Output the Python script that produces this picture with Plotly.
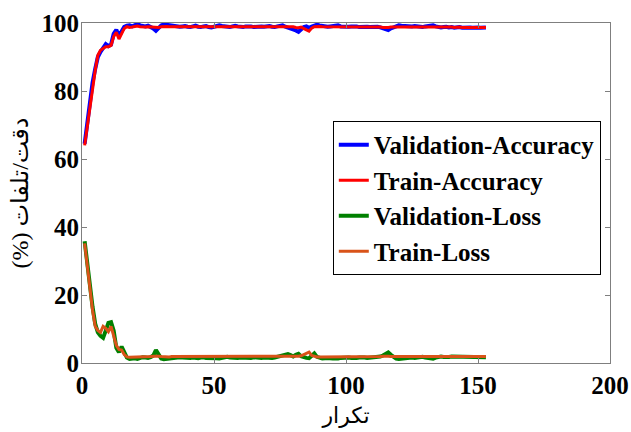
import plotly.graph_objects as go

epochs = list(range(1, 154))

val_acc = [
    64.5, 70.5, 77.0, 82.5, 86.5, 90.0, 91.5, 92.8, 93.8, 93.2,
    93.6, 96.8, 98.0, 96.2, 97.8, 98.9, 99.2, 99.3, 99.0, 99.5,
    99.7, 99.3, 99.1, 99.0, 99.2, 98.9, 98.4, 97.7, 98.6, 99.3,
    99.6, 99.5, 99.3, 99.2, 99.0, 99.1, 98.9, 99.0, 99.1, 98.9,
    98.8, 99.0, 99.2, 98.9, 98.8, 99.0, 99.1, 98.8, 98.7, 98.9,
    99.0, 99.3, 99.1, 98.9, 98.7, 98.8, 99.0, 99.2, 99.0, 98.9,
    98.8, 99.0, 99.1, 99.0, 98.8, 98.9, 99.1, 99.0, 98.9, 99.0,
    99.1, 98.9, 98.8, 99.0, 99.1, 99.3, 98.9, 98.7, 98.5, 98.3,
    97.8, 97.4, 98.2, 98.8, 99.0, 98.6, 98.9, 99.3, 99.5, 99.3,
    99.1, 99.0, 98.9, 99.0, 99.2, 99.4, 99.3, 99.0, 98.9, 98.8,
    98.9, 99.0, 99.1, 99.0, 98.8, 98.9, 99.0, 98.9, 98.8, 98.9,
    99.0, 98.9, 98.7, 98.4, 98.0, 97.9, 98.4, 98.8, 99.1, 99.3,
    99.2, 99.1, 99.0, 98.9, 99.0, 99.1, 99.0, 98.9, 98.8, 99.0,
    99.1, 99.4, 99.3, 99.0, 98.8, 98.7, 98.8, 98.9, 98.7, 98.8,
    98.6, 98.7, 98.8, 98.6, 98.7, 98.8, 98.7, 98.6, 98.8, 98.7,
    98.6, 98.7, 98.7,
]

train_acc = [
    64.0, 69.5, 76.0, 81.5, 86.0, 90.5, 92.0, 92.5, 93.0, 93.0,
    93.4, 96.0, 97.3, 95.3, 96.8, 98.4, 98.9, 98.7, 98.8, 99.0,
    99.1, 98.9, 98.8, 98.8, 98.9, 98.8, 98.7, 98.6, 98.7, 98.9,
    99.0, 99.0, 98.9, 98.9, 98.8, 98.9, 98.9, 98.8, 98.9, 98.8,
    98.8, 98.9, 98.9, 98.8, 98.8, 98.9, 98.9, 98.8, 98.8, 98.8,
    98.9, 99.0, 98.9, 98.8, 98.8, 98.8, 98.9, 99.0, 98.9, 98.8,
    98.8, 98.9, 98.9, 98.9, 98.8, 98.8, 98.9, 98.9, 98.8, 98.9,
    98.9, 98.8, 98.8, 98.9, 98.9, 99.0, 98.9, 98.8, 98.8, 98.9,
    98.7, 98.6, 98.8, 98.5, 98.0, 97.6, 98.5, 98.9, 99.0, 99.0,
    98.9, 98.9, 98.8, 98.9, 98.9, 99.0, 99.0, 98.9, 98.8, 98.8,
    98.8, 98.9, 98.9, 98.9, 98.8, 98.8, 98.9, 98.8, 98.8, 98.8,
    98.9, 98.8, 98.8, 98.7, 98.6, 98.7, 98.8, 98.8, 98.9, 99.0,
    98.9, 98.9, 98.9, 98.8, 98.9, 98.9, 98.9, 98.8, 98.8, 98.9,
    98.9, 99.0, 99.0, 98.9, 98.8, 98.8, 98.8, 98.8, 98.8, 98.8,
    98.7, 98.8, 98.8, 98.7, 98.7, 98.8, 98.7, 98.7, 98.8, 98.7,
    98.7, 98.7, 98.7,
]

val_loss = [
    35.8, 29.0, 22.5, 16.5, 11.5, 9.0, 8.0, 7.4, 9.5, 11.8,
    12.0, 9.5, 4.5, 3.2, 4.8, 3.0, 1.6, 1.2, 1.3, 1.4,
    1.2, 1.5, 1.7, 1.6, 1.5, 1.7, 2.2, 3.8, 2.5, 1.3,
    1.1, 1.2, 1.4, 1.5, 1.6, 1.5, 1.7, 1.6, 1.5, 1.4,
    1.5, 1.6, 1.5, 1.4, 1.6, 1.7, 1.5, 1.5, 1.6, 1.5,
    1.4, 1.3, 1.5, 1.6, 1.8, 1.6, 1.5, 1.4, 1.5, 1.6,
    1.6, 1.5, 1.4, 1.5, 1.7, 1.6, 1.5, 1.5, 1.6, 1.5,
    1.4, 1.5, 1.6, 1.8, 2.0, 1.9, 2.2, 2.6, 2.3, 1.9,
    2.4, 2.7, 2.0, 1.6, 1.5, 1.4, 2.2, 2.8, 1.8, 1.4,
    1.3, 1.4, 1.5, 1.4, 1.3, 1.2, 1.3, 1.5, 1.6, 1.7,
    1.6, 1.5, 1.4, 1.5, 1.6, 1.7, 1.6, 1.5, 1.6, 1.7,
    1.6, 1.7, 1.9, 2.2, 2.6, 3.1, 2.4, 1.7, 1.3, 1.2,
    1.3, 1.5, 1.6, 1.7, 1.6, 1.5, 1.6, 1.7, 1.8, 1.6,
    1.4, 1.2, 1.3, 1.6, 1.8, 1.9, 1.8, 1.7, 1.8, 1.9,
    1.9, 1.8, 1.7, 1.8, 1.9, 1.8, 1.7, 1.8, 1.7, 1.8,
    1.8, 1.7, 1.7,
]

train_loss = [
    35.2, 28.0, 21.5, 15.5, 10.8, 9.6, 9.0, 10.8, 10.2, 9.2,
    10.8, 8.2, 5.2, 4.0, 3.8, 2.5, 1.8, 1.7, 1.7, 1.8,
    1.8, 1.8, 1.9, 1.9, 1.8, 1.9, 2.0, 2.1, 2.0, 1.9,
    1.8, 1.8, 1.8, 1.9, 1.9, 1.8, 1.9, 1.9, 1.8, 1.8,
    1.8, 1.8, 1.8, 1.9, 1.9, 1.8, 1.8, 1.8, 1.9, 1.8,
    1.8, 1.8, 1.8, 1.9, 1.9, 1.9, 1.8, 1.8, 1.8, 1.9,
    1.9, 1.8, 1.8, 1.8, 1.9, 1.9, 1.8, 1.8, 1.8, 1.8,
    1.8, 1.8, 1.9, 1.9, 1.9, 2.0, 2.0, 1.9, 1.9, 1.9,
    1.9, 2.0, 2.1, 2.4, 2.8, 3.2, 2.2, 1.9, 1.8, 1.8,
    1.8, 1.8, 1.8, 1.8, 1.8, 1.7, 1.8, 1.8, 1.9, 1.9,
    1.9, 1.8, 1.8, 1.8, 1.9, 1.9, 1.9, 1.8, 1.8, 1.9,
    1.9, 1.9, 1.9, 2.0, 2.1, 2.0, 1.9, 1.9, 1.8, 1.8,
    1.8, 1.8, 1.9, 1.9, 1.9, 1.9, 1.9, 1.9, 1.9, 1.9,
    1.8, 1.8, 1.8, 1.9, 1.9, 2.0, 2.0, 1.9, 1.9, 2.0,
    2.0, 1.9, 1.9, 1.9, 2.0, 1.9, 1.9, 1.9, 1.9, 1.9,
    1.9, 1.9, 1.9,
]

series_names = ["Validation-Accuracy", "Train-Accuracy", "Validation-Loss", "Train-Loss"]
x_ticks = [0, 50, 100, 150, 200]
y_ticks = [0, 20, 40, 60, 80, 100]
x_title = "تکرار"
y_title = "(%) دقت/تلفات"

serif = "Times New Roman, Liberation Serif, DejaVu Serif, DejaVu Sans, serif"

styles = [
    ("#0000FF", 4),
    ("#FF0000", 3),
    ("#008000", 4),
    ("#D95319", 3),
]

fig = go.Figure()
for i, (name, ys) in enumerate(zip(series_names, [val_acc, train_acc, val_loss, train_loss])):
    color, width = styles[i]
    fig.add_trace(go.Scatter(
        x=epochs, y=ys, mode="lines", name=name,
        line=dict(color=color, width=width),
        legendgroup=f"g{i}",
    ))

axis_common = dict(
    showline=True, linecolor="#7f7f7f", linewidth=1, mirror="ticks",
    ticks="inside", ticklen=5, tickcolor="#7f7f7f", tickwidth=1,
    showgrid=False, zeroline=False, automargin=False,
    tickfont=dict(family=serif, size=25, color="black", weight="bold"),
)

fig.update_layout(
    width=631, height=432,
    margin=dict(l=82, r=21, t=23, b=69),
    plot_bgcolor="white", paper_bgcolor="white",
    xaxis=dict(range=[0, 200], tickvals=x_ticks,
               title=dict(text=x_title, font=dict(family=serif, size=22, color="black"), standoff=9),
               **axis_common),
    yaxis=dict(range=[0, 100], tickvals=y_ticks, ticklabelstandoff=-3,
               title=dict(text=y_title, font=dict(family=serif, size=24, color="black"), standoff=6),
               **axis_common),
    legend=dict(
        x=0.475, y=0.712, xanchor="left", yanchor="top",
        bgcolor="white", bordercolor="black", borderwidth=1,
        font=dict(family=serif, size=25, color="black", weight="bold"),
        tracegroupgap=0, itemwidth=30,
    ),
    showlegend=True,
)

fig.write_html(
    "out.html",
    config={"displayModeBar": False},
    post_script="document.body.style.margin='0';document.body.style.padding='0';document.body.style.overflow='hidden';",
)
